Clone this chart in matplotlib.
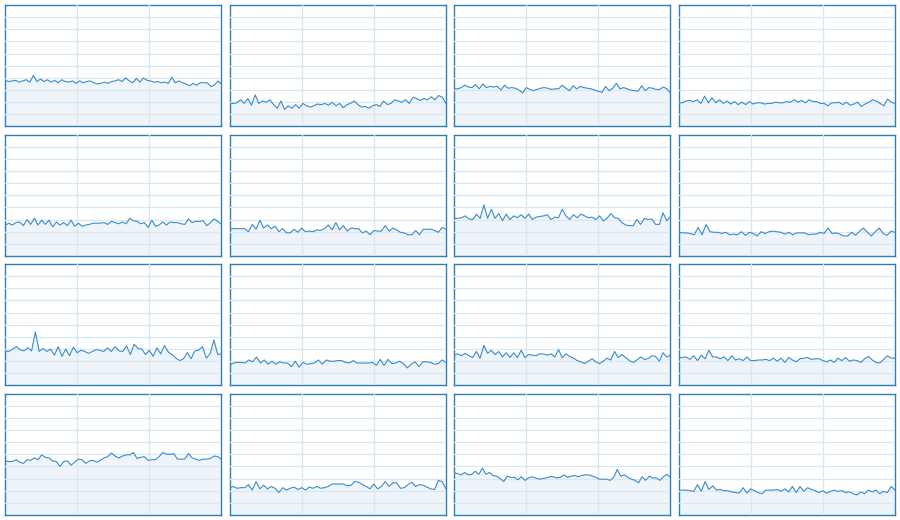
import matplotlib
matplotlib.use("Agg")
import matplotlib.pyplot as plt
import numpy as np

# ── series, one per panel, read row by row (values on a 0-100 scale) ─────────
s00 = [38, 37, 37.5, 38, 36.5, 37.5, 38.5, 36.5, 42, 37, 39, 37, 38.5, 36.5, 38, 36, 38.5, 37, 36.5,
       37.5, 35.5, 37.5, 36, 37, 37.5, 36, 35, 35.5, 36.5, 35.5, 37, 37.5, 38.5, 37, 40, 37.5, 36,
       39.5, 36.5, 40, 38, 37.5, 36.5, 37, 36, 36.5, 35.5, 40.5, 36, 37.5, 36, 35, 33.5, 35.5, 34, 36,
       36, 36, 33, 34, 37.5, 35]
s01 = [19, 19, 19.5, 22, 19, 23, 17.5, 26, 19, 21, 20, 22, 18, 15, 21, 14, 17, 15, 18, 15, 19, 17, 16,
       17, 18.5, 18, 19, 17.5, 20, 17, 19, 15.5, 18, 19, 21, 18, 16, 16.5, 15, 17, 18, 16.5, 21, 18,
       19, 22, 21, 20, 22, 19, 24, 23, 21.5, 23, 22, 24.5, 22, 25.5, 24, 19]
s02 = [31, 31, 32, 34, 32.5, 32, 34.5, 31, 35, 32, 33, 32.5, 33, 30, 34, 31.5, 32, 31.5, 30, 27.5, 32,
       30.5, 29.5, 30.5, 31.5, 32, 31.5, 30.5, 31, 31, 34, 31.5, 29.5, 33.5, 31, 33, 32, 31.5, 31, 30,
       29, 28, 33, 29.5, 31.5, 35.5, 31, 32, 31, 30, 29.5, 29, 33.5, 29.5, 32, 31.5, 30.5, 30.5, 32.5,
       31, 27.5]
s03 = [19.5, 19.5, 21, 21.5, 20.5, 22, 19, 25, 19.5, 23.5, 19.5, 22, 19, 21, 18.5, 20.5, 18, 20, 18,
       20.5, 18.5, 19.5, 19.5, 18.5, 19, 19, 20, 19.5, 19.5, 20.5, 20, 22, 20, 21.5, 19.5, 22, 20.5,
       20.5, 19, 19, 17, 19.5, 19.5, 20, 18, 20, 17.5, 18.5, 20, 16.5, 18.5, 20, 22, 21, 19, 17, 22.5,
       20, 19]
s10 = [25, 27, 25.5, 27.5, 28, 25, 30, 26, 31, 25.5, 29.5, 26, 29.5, 24, 28, 25.5, 27.5, 25, 29.5,
       24.5, 27, 24.5, 25.5, 26, 27, 27, 27, 27.5, 26, 28.5, 27.5, 26.5, 28, 26.5, 31, 29, 28.5, 26.5,
       27.5, 23.5, 29.5, 24.5, 25.5, 28, 25.5, 28, 27.5, 27.5, 26.5, 26, 30.5, 27.5, 28.5, 28.5, 29,
       25, 27.5, 30.5, 28.5, 26]
s11 = [22.5, 22.5, 22.5, 22.5, 22.5, 20, 26, 22, 29.5, 23, 25.5, 22.5, 24.5, 20, 22.5, 19, 19, 22,
       19.5, 23, 20, 20.5, 20, 21.5, 21, 22.5, 25.5, 21.5, 27.5, 21.5, 25, 20.5, 23, 22.5, 22.5, 19,
       20.5, 17.5, 21, 20.5, 20.5, 25, 20.5, 23, 21.5, 19.5, 19, 17.5, 17.5, 21, 17.5, 22, 22, 22, 21,
       19.5, 23.5, 22]
s12 = [31, 31, 31.5, 33, 30.5, 30, 34.5, 31, 42, 31, 38.5, 31, 35, 29, 34.5, 30, 33, 31.5, 34, 31,
       34.5, 30, 32, 32.5, 33, 34, 30, 32, 31.5, 38.5, 33, 30, 34, 31.5, 34.5, 33, 31.5, 32, 30, 33,
       29, 31, 35, 31.5, 31, 27.5, 25.5, 25, 25, 30, 26, 31, 30, 30.5, 26, 26, 35.5, 29, 32.5]
s13 = [19.5, 19, 19, 18.5, 17.5, 23.5, 17.5, 26, 20, 19.5, 19.5, 18.5, 19.5, 17.5, 18, 17.5, 20, 17,
       19.5, 18.5, 16.5, 20, 18.5, 20, 20.5, 20, 19.5, 18, 19.5, 17.5, 19, 19, 19, 17.5, 18, 18, 19.5,
       18.5, 23, 18.5, 19, 18, 16.5, 16.5, 19.5, 17, 20.5, 23, 19.5, 16.5, 20, 23, 18.5, 17, 20.5,
       19.5]
s20 = [28.5, 28, 30, 32, 29.5, 28.5, 31, 28.5, 44, 28, 30.5, 28, 30, 25, 32, 24, 30, 24.5, 31.5, 27,
       29, 28, 26.5, 28, 29.5, 29, 28, 31, 28, 32, 28.5, 28, 32.5, 25.5, 34, 30.5, 30, 25.5, 29, 24,
       31, 26, 33, 27.5, 25.5, 22.5, 20.5, 22, 27, 22, 28.5, 29, 32, 22.5, 26, 37.5, 25.5, 26]
s21 = [16.5, 18.5, 19, 19, 18.5, 21, 19.5, 23.5, 18.5, 21, 17.5, 20, 17.5, 19.5, 18.5, 18.5, 15.5,
       20, 15, 19, 17.5, 18, 18.5, 21, 17.5, 21, 20, 20, 20.5, 20.5, 19, 18.5, 20.5, 18.5, 18.5, 18.5,
       18.5, 19, 16.5, 21.5, 16.5, 21.5, 18, 18.5, 20, 18, 14.5, 17.5, 19.5, 15.5, 19.5, 19.5, 19,
       17.5, 18, 21, 19]
s22 = [25, 26, 24.5, 26.5, 24.5, 23, 28, 22.5, 33, 26.5, 29, 25.5, 28, 23.5, 27, 23, 27, 23, 29, 23,
       25.5, 25, 24.5, 26, 26, 25, 26, 23.5, 29.5, 23, 26, 24, 22.5, 20.5, 19.5, 18, 20, 22, 19.5, 18,
       20, 22.5, 21, 28, 23, 25.5, 23, 20.5, 19, 21, 23.5, 21.5, 22, 24.5, 24, 20, 27, 23.5, 25]
s23 = [23, 23, 23.5, 21.5, 24.5, 20.5, 25, 22, 29, 23.5, 23.5, 22, 23.5, 20.5, 24.5, 21, 22, 20.5,
       23.5, 20.5, 20.5, 21, 21, 21.5, 20.5, 22.5, 20, 22.5, 19, 23, 21, 19.5, 22, 22.5, 23, 21.5, 22,
       22, 20.5, 19.5, 21, 19, 22.5, 20.5, 23, 20, 21, 20.5, 19, 22, 24, 21, 19, 18.5, 21.5, 24.5,
       22.5, 22.5]
s30 = [44.5, 44, 44, 45.5, 43.5, 42.5, 45.5, 45, 47, 45.5, 49.5, 47.5, 47, 44.5, 44, 40, 44, 44.5,
       41, 43.5, 46, 45.5, 42.5, 44.5, 45, 43.5, 45, 47, 48, 51, 48.5, 47, 48.5, 49.5, 49.5, 51.5,
       46.5, 47.5, 48, 45, 45.5, 45.5, 48, 51.5, 50, 50, 50.5, 46, 46, 46, 50.5, 47, 46, 45, 46, 46,
       46.5, 48.5, 48, 46]
s31 = [22, 23.5, 22, 22.5, 22.5, 25, 20.5, 27.5, 21.5, 24.5, 21.5, 23.5, 22, 18.5, 22.5, 20.5, 22,
       23, 21, 22.5, 20.5, 23, 22, 23.5, 22, 22.5, 23.5, 25.5, 25.5, 25.5, 25.5, 24, 24.5, 27.5, 27,
       25, 23.5, 21.5, 25.5, 21.5, 23.5, 27.5, 23.5, 26.5, 26.5, 22, 22.5, 25, 27, 23.5, 25, 24.5, 23,
       21.5, 21, 28.5, 27.5, 21.5]
s32 = [35, 34, 33, 35, 33, 33.5, 36, 33.5, 38.5, 33.5, 35, 32.5, 32, 30, 27.5, 32, 31, 31, 29, 31.5,
       28.5, 30.5, 31.5, 30.5, 29.5, 30, 30.5, 31.5, 31.5, 30.5, 31, 33, 31, 32, 32.5, 31.5, 32.5, 33,
       33, 32, 31, 29.5, 29.5, 29.5, 28.5, 31, 37.5, 32, 33, 31, 29.5, 28.5, 26.5, 31.5, 28.5, 32,
       30.5, 30.5, 28.5, 31.5, 33.5, 31]
s33 = [20.5, 20.5, 20.5, 20, 19.5, 25, 19.5, 27.5, 21, 24, 20.5, 21, 20, 20, 19, 18.5, 18, 22.5, 18,
       21.5, 20, 18.5, 17.5, 20.5, 20.5, 20.5, 21, 19.5, 21.5, 19, 23.5, 18.5, 23.5, 19.5, 22.5, 21,
       20, 18.5, 20, 18, 19.5, 20.5, 19.5, 20, 18.5, 19, 17.5, 16.5, 19, 17.5, 20.5, 19, 20.5, 17.5,
       19.5, 18.5, 23.5, 20.5]

SERIES = [[s00, s01, s02, s03],
          [s10, s11, s12, s13],
          [s20, s21, s22, s23],
          [s30, s31, s32, s33]]

LINE = "#3a8cc9"
FILL = "#eef4f9"
EDGE = "#2f7fb4"
GRID = "#d9e7f2"

fig, axes = plt.subplots(4, 4, figsize=(9, 5.2), dpi=100)
fig.subplots_adjust(left=5 / 900, right=895 / 900, top=1 - 5 / 520, bottom=1 - 515 / 520,
                    wspace=0.037, hspace=0.066)

for r in range(4):
    for c in range(4):
        ax = axes[r, c]
        y = np.asarray(SERIES[r][c], dtype=float)
        x = np.arange(len(y))
        ax.fill_between(x, 0, y, color=FILL, lw=0, zorder=1)
        ax.plot(x, y, color=LINE, lw=0.8, zorder=3)
        ax.set_xlim(0, len(y) - 1)
        ax.set_ylim(0, 100)
        ax.set_xticks([(len(y) - 1) / 3, 2 * (len(y) - 1) / 3])
        ax.set_yticks(np.arange(10, 100, 10))
        ax.grid(True, color=GRID, lw=0.9, zorder=2)
        ax.set_axisbelow(False)
        ax.tick_params(length=0, labelbottom=False, labelleft=False)
        for sp in ax.spines.values():
            sp.set_color(EDGE)
            sp.set_linewidth(1.0)

fig.savefig("out.png", dpi=100)
